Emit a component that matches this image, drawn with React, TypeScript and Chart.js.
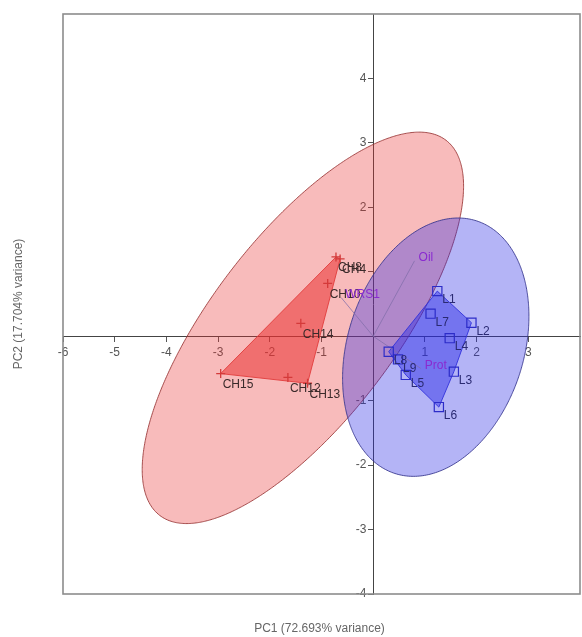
import React, { useEffect, useRef } from 'react';
import { Chart, registerables } from 'chart.js';

Chart.register(...registerables);

// ---- data ----
const chNames = ['CH8', 'CH4', 'CH10', 'CH14', 'CH15', 'CH12', 'CH13'];
const chX = [-0.72, -0.64, -0.88, -1.4, -2.95, -1.65, -1.27];
const chY = [1.23, 1.2, 0.82, 0.2, -0.58, -0.64, -0.73];

const lNames = ['L1', 'L7', 'L2', 'L4', 'L8', 'L9', 'L5', 'L3', 'L6'];
const lX = [1.24, 1.11, 1.9, 1.48, 0.3, 0.48, 0.63, 1.56, 1.27];
const lY = [0.7, 0.35, 0.21, -0.03, -0.24, -0.36, -0.6, -0.55, -1.1];

const loadingNames = ['Oil', 'Prot', 'WRS1'];
const loadingX = [0.8, 0.92, -0.62];
const loadingY = [1.17, -0.5, 0.6];

const redEllipseCenter = [-1.36, 0.13];
const redEllipseAxisA = [2.77, 2.91];
const redEllipseAxisB = [1.41, -0.87];
const blueEllipseCenter = [1.21, -0.17];
const blueEllipseAxisA = [0.79, 1.96];
const blueEllipseAxisB = [1.62, -0.42];

const xMin = -6;
const xMax = 4;
const yMin = -4;
const yMax = 5;
const xTickLabels = [-6, -5, -4, -3, -2, -1, 1, 2, 3];
const yTickLabels = [-4, -3, -2, -1, 2, 3, 4];
const xTitle = 'PC1 (72.693% variance)';
const yTitle = 'PC2 (17.704% variance)';

const FONT = '"Liberation Sans", Arial, sans-serif';

function ellipsePoints(c: number[], A: number[], B: number[], n = 160) {
  const pts: { x: number; y: number }[] = [];
  for (let i = 0; i <= n; i++) {
    const t = (i / n) * Math.PI * 2;
    pts.push({
      x: c[0] + A[0] * Math.cos(t) + B[0] * Math.sin(t),
      y: c[1] + A[1] * Math.cos(t) + B[1] * Math.sin(t),
    });
  }
  return pts;
}

function convexHull(xs: number[], ys: number[]) {
  const pts = xs.map((x, i) => ({ x, y: ys[i] })).sort((a, b) => a.x - b.x || a.y - b.y);
  const cross = (o: any, a: any, b: any) => (a.x - o.x) * (b.y - o.y) - (a.y - o.y) * (b.x - o.x);
  const lower: any[] = [];
  for (const p of pts) {
    while (lower.length >= 2 && cross(lower[lower.length - 2], lower[lower.length - 1], p) <= 0) lower.pop();
    lower.push(p);
  }
  const upper: any[] = [];
  for (let i = pts.length - 1; i >= 0; i--) {
    const p = pts[i];
    while (upper.length >= 2 && cross(upper[upper.length - 2], upper[upper.length - 1], p) <= 0) upper.pop();
    upper.push(p);
  }
  upper.pop();
  lower.pop();
  const h = lower.concat(upper);
  h.push(h[0]);
  return h;
}

const zeroPad = (scale: any) => {
  scale.paddingLeft = 0;
  scale.paddingRight = 0;
  scale.paddingTop = 0;
  scale.paddingBottom = 0;
};

// fills closed line datasets using the element positions computed by the scales
const shapeFillPlugin = {
  id: 'shapeFill',
  beforeDatasetDraw(chart: any, args: any) {
    const ds = chart.data.datasets[args.index];
    if (!ds.shapeFill) return;
    const pts = args.meta.data;
    if (!pts || pts.length < 3) return;
    const { ctx, chartArea } = chart;
    ctx.save();
    ctx.beginPath();
    ctx.rect(chartArea.left, chartArea.top, chartArea.right - chartArea.left, chartArea.bottom - chartArea.top);
    ctx.clip();
    ctx.beginPath();
    pts.forEach((p: any, i: number) => (i === 0 ? ctx.moveTo(p.x, p.y) : ctx.lineTo(p.x, p.y)));
    ctx.closePath();
    ctx.fillStyle = ds.shapeFill;
    ctx.fill();
    ctx.restore();
  },
};

const decorPlugin = {
  id: 'decor',
  afterDraw(chart: any) {
    const { ctx, chartArea, scales } = chart;
    const xs = scales.x;
    const ys = scales.y;
    ctx.save();
    // frame
    ctx.strokeStyle = '#8c8c8c';
    ctx.lineWidth = 1.6;
    ctx.strokeRect(chartArea.left, chartArea.top, chartArea.right - chartArea.left, chartArea.bottom - chartArea.top);

    // point labels
    ctx.textBaseline = 'middle';
    ctx.textAlign = 'left';
    ctx.font = '12px ' + FONT;
    ctx.fillStyle = '#3a2a2a';
    chNames.forEach((n, i) => {
      ctx.fillText(n, xs.getPixelForValue(chX[i]) + 2, ys.getPixelForValue(chY[i]) + 11);
    });
    ctx.fillStyle = '#2a2a72';
    lNames.forEach((n, i) => {
      ctx.fillText(n, xs.getPixelForValue(lX[i]) + 5, ys.getPixelForValue(lY[i]) + 9);
    });
    ctx.fillStyle = '#8a2ad0';
    loadingNames.forEach((n, i) => {
      ctx.fillText(n, xs.getPixelForValue(loadingX[i]) + 4, ys.getPixelForValue(loadingY[i]) - 3);
    });

    // axis titles
    ctx.fillStyle = '#666';
    ctx.font = '12px ' + FONT;
    ctx.textAlign = 'center';
    ctx.fillText(xTitle, (chartArea.left + chartArea.right) / 2 - 2, chartArea.bottom + 35);
    ctx.translate(chartArea.left - 44, (chartArea.top + chartArea.bottom) / 2);
    ctx.rotate(-Math.PI / 2);
    ctx.fillText(yTitle, 0, 0);
    ctx.restore();
  },
};

export default function App() {
  const canvasRef = useRef<HTMLCanvasElement | null>(null);

  useEffect(() => {
    if (!canvasRef.current) return;
    const lineBase = { showLine: true, pointRadius: 0, tension: 0, fill: false };
    const curveBase = { ...lineBase, tension: 0.2 };
    const loadingSets = loadingNames.map((n, i) => ({
      label: n,
      data: [
        { x: 0, y: 0 },
        { x: loadingX[i], y: loadingY[i] },
      ],
      showLine: true,
      pointRadius: 0,
      borderColor: 'rgba(130,110,170,0.75)',
      borderWidth: 1,
      fill: false,
      order: 6,
    }));
    const chart = new Chart(canvasRef.current, {
      type: 'scatter',
      data: {
        datasets: [
          {
            label: 'red ellipse',
            data: ellipsePoints(redEllipseCenter, redEllipseAxisA, redEllipseAxisB),
            ...curveBase,
            borderColor: 'rgba(150,50,50,0.85)',
            borderWidth: 1,
            shapeFill: 'rgba(235,50,50,0.33)',
            order: 10,
          },
          {
            label: 'blue ellipse',
            data: ellipsePoints(blueEllipseCenter, blueEllipseAxisA, blueEllipseAxisB),
            ...curveBase,
            borderColor: 'rgba(50,50,140,0.85)',
            borderWidth: 1,
            shapeFill: 'rgba(40,40,230,0.35)',
            order: 9,
          },
          {
            label: 'red hull',
            data: convexHull(chX, chY),
            ...lineBase,
            borderColor: 'rgba(225,60,60,0.9)',
            borderWidth: 1,
            shapeFill: 'rgba(235,50,50,0.55)',
            order: 8,
          },
          {
            label: 'blue hull',
            data: convexHull(lX, lY),
            ...lineBase,
            borderColor: 'rgba(50,50,220,0.9)',
            borderWidth: 1,
            shapeFill: 'rgba(40,40,230,0.45)',
            order: 7,
          },
          ...loadingSets,
          {
            label: 'CH',
            data: chX.map((x, i) => ({ x, y: chY[i] })),
            pointStyle: 'cross',
            pointRadius: 4.5,
            borderColor: '#d43a3a',
            borderWidth: 1.3,
            showLine: false,
            order: 5,
          },
          {
            label: 'L',
            data: lX.map((x, i) => ({ x, y: lY[i] })),
            pointStyle: 'rect',
            pointRadius: 6.5,
            borderColor: '#2c2cc8',
            backgroundColor: 'rgba(0,0,0,0)',
            borderWidth: 1.2,
            showLine: false,
            order: 4,
          },
        ] as any,
      },
      options: {
        animation: false,
        responsive: false,
        events: [],
        layout: { autoPadding: false, padding: { left: 63, top: 14, right: 2, bottom: 43 } },
        plugins: { legend: { display: false }, tooltip: { enabled: false } },
        scales: {
          x: {
            type: 'linear',
            min: xMin,
            max: xMax,
            position: { y: 0 } as any,
            z: 1,
            grid: { drawOnChartArea: false, tickLength: 5, color: '#555' },
            border: { display: true, color: '#444', width: 1 },
            ticks: {
              stepSize: 1,
              padding: 4,
              color: '#555',
              font: { family: FONT, size: 12 },
              maxRotation: 0,
              autoSkip: false,
              callback: (v: any) => (xTickLabels.includes(Number(v)) ? String(v) : null),
            },
            afterFit: zeroPad,
          },
          y: {
            type: 'linear',
            min: yMin,
            max: yMax,
            position: { x: 0 } as any,
            z: 1,
            grid: { drawOnChartArea: false, tickLength: 5, color: '#555' },
            border: { display: true, color: '#444', width: 1 },
            ticks: {
              stepSize: 1,
              padding: 2,
              color: '#555',
              font: { family: FONT, size: 12 },
              autoSkip: false,
              callback: (v: any) => {
                const n = Number(v);
                if (yTickLabels.includes(n)) return String(v) + '  ';
                if (n === 1) return '';
                return null;
              },
            },
            afterFit: zeroPad,
          },
        },
      } as any,
      plugins: [shapeFillPlugin, decorPlugin],
    });
    return () => chart.destroy();
  }, []);

  return (
    <div style={{ position: 'fixed', left: 0, top: 0, width: 582, height: 637, background: '#fff' }}>
      <canvas ref={canvasRef} width={582} height={637} style={{ display: 'block' }} />
    </div>
  );
}
